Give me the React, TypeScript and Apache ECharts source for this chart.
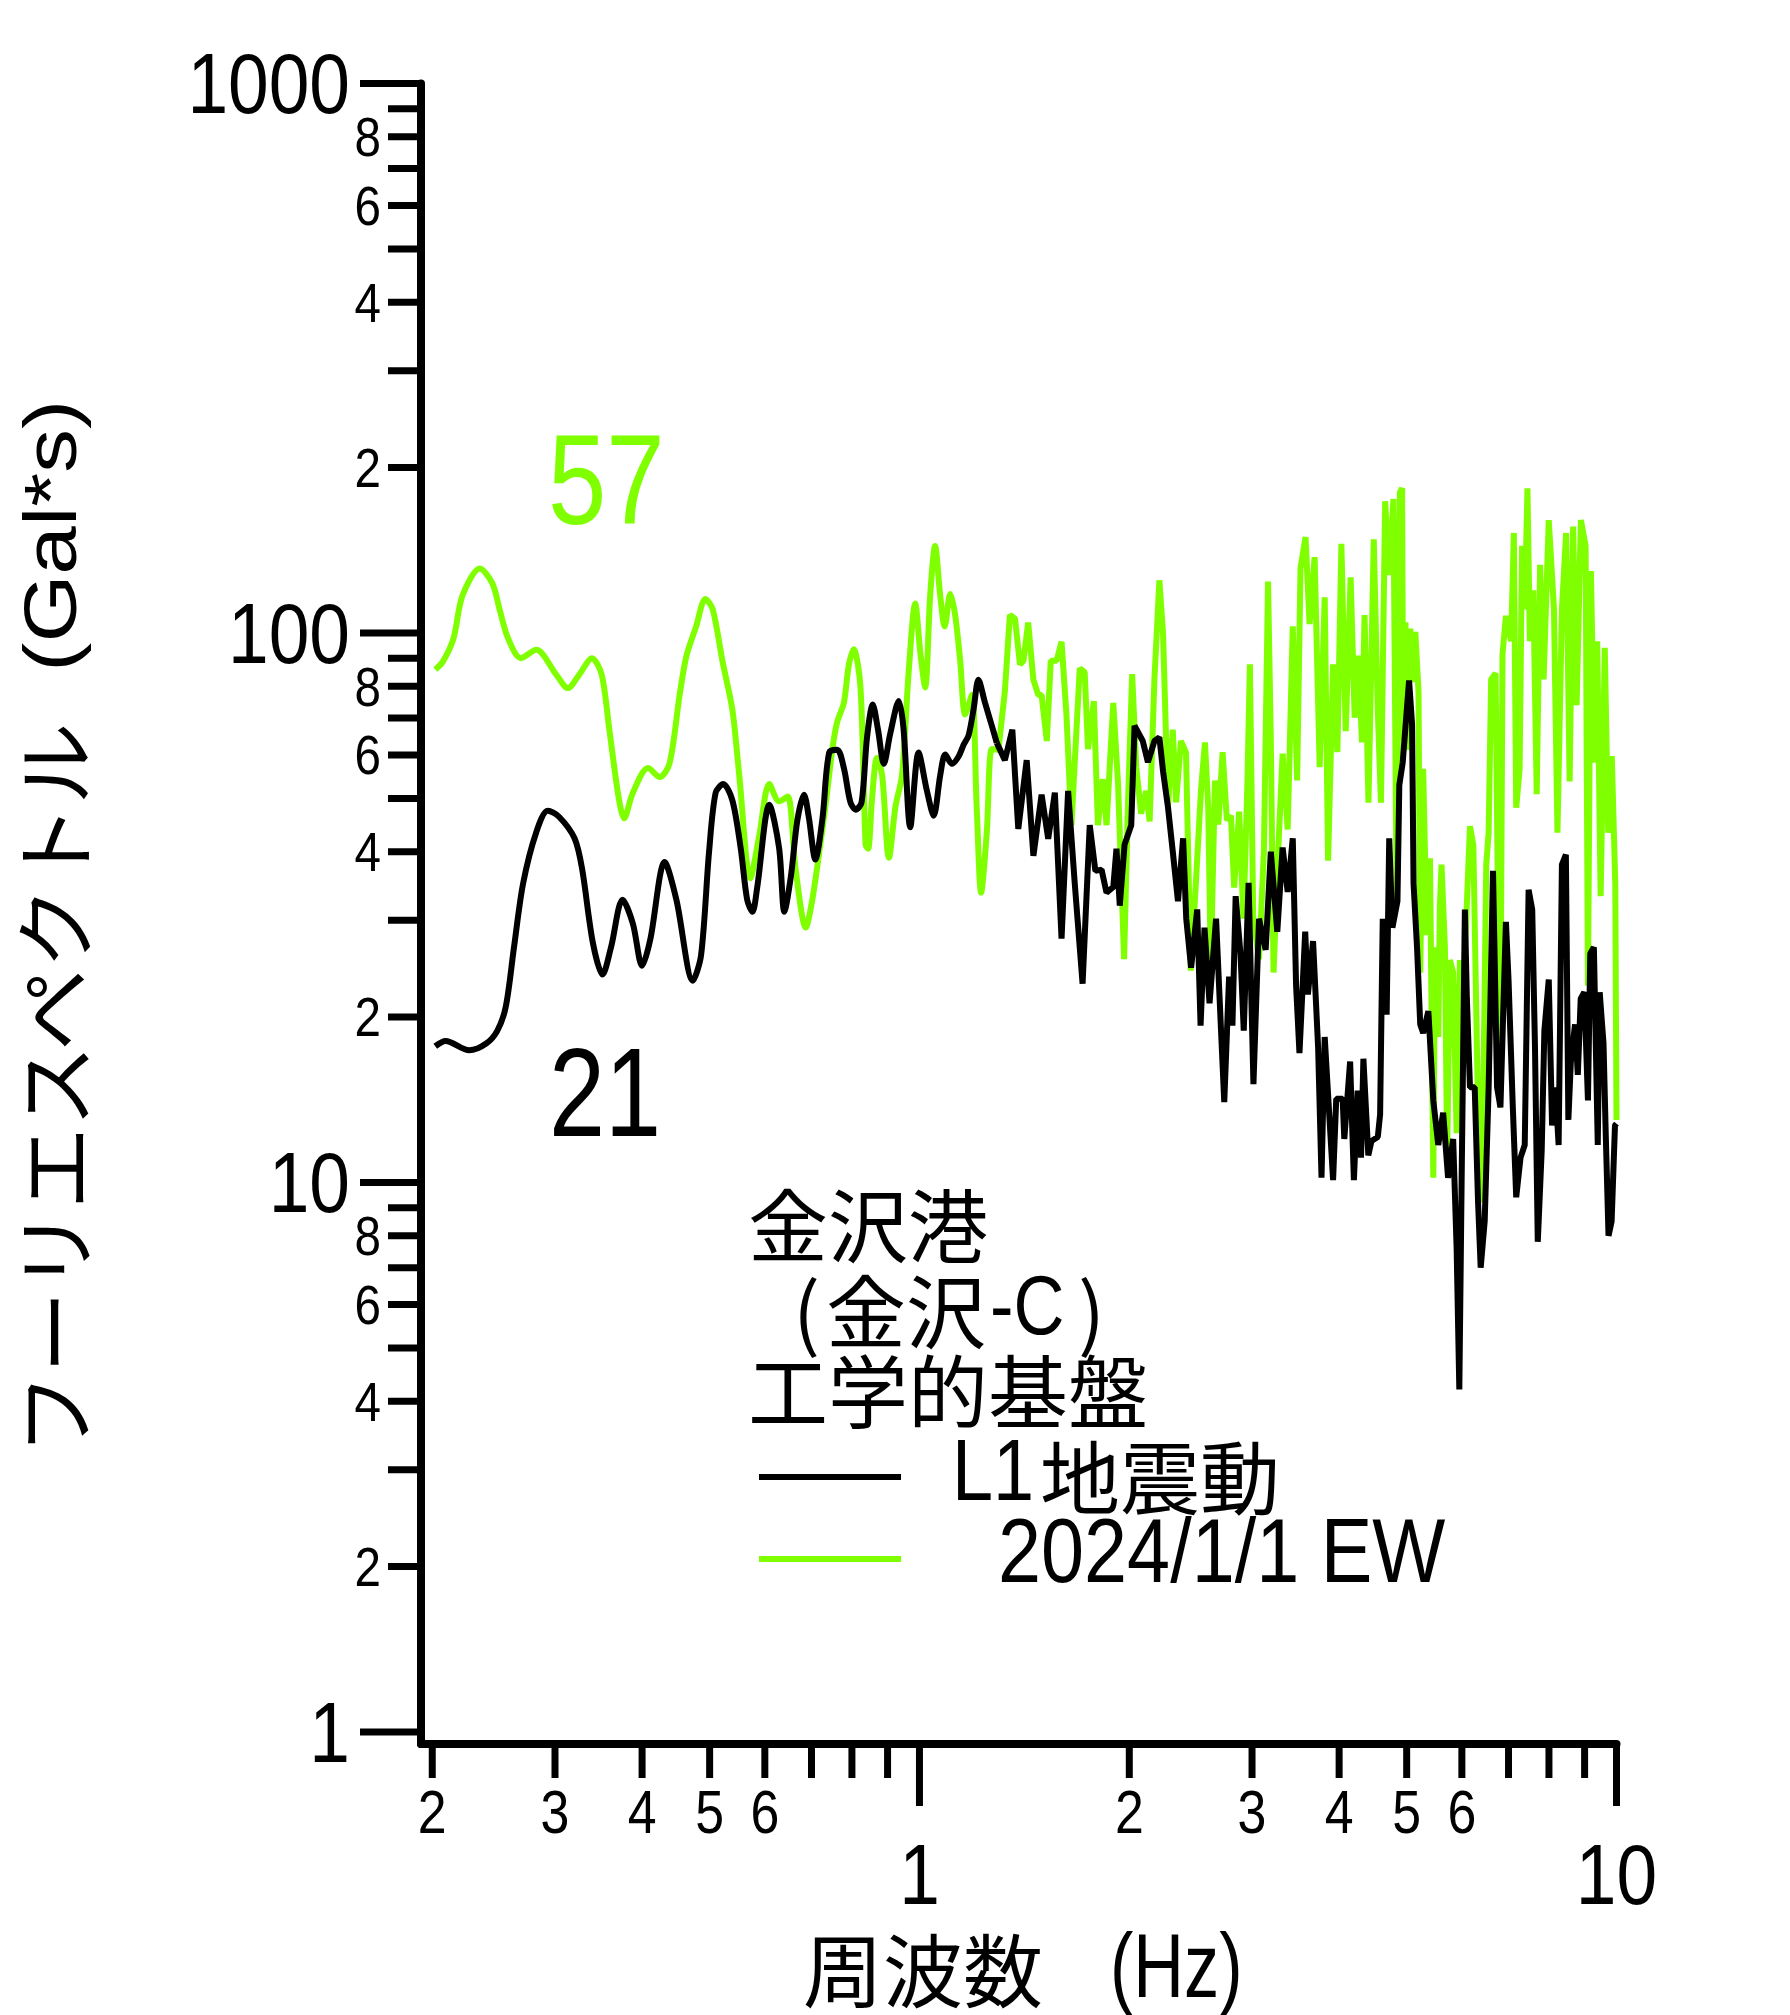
import React, { useEffect, useRef } from 'react';
import * as echarts from 'echarts';

// ---------- data ----------
const FREQ_EW = [
  0.202, 0.207, 0.2145, 0.221, 0.234, 0.244, 0.25, 0.257, 0.268, 0.282, 0.301, 0.313, 0.325, 0.339, 0.35,
  0.359, 0.37, 0.377, 0.388, 0.408, 0.424, 0.438, 0.453, 0.463, 0.478, 0.493, 0.505, 0.522, 0.539, 0.551,
  0.572, 0.589, 0.609, 0.629, 0.647, 0.664, 0.687, 0.701, 0.717, 0.733, 0.75, 0.762, 0.779, 0.792, 0.805,
  0.823, 0.837, 0.844, 0.855, 0.869, 0.884, 0.904, 0.924, 0.944, 0.965, 0.986, 1.003, 1.019, 1.036, 1.053,
  1.071, 1.087, 1.107, 1.125, 1.144, 1.163, 1.189, 1.208, 1.226, 1.249, 1.27, 1.298, 1.326, 1.348, 1.371,
  1.394, 1.41, 1.432, 1.457, 1.481, 1.497, 1.523, 1.543, 1.573, 1.599, 1.625, 1.652, 1.698, 1.726, 1.745,
  1.779, 1.803, 1.833, 1.855, 1.897, 1.927, 1.966, 1.991, 2.019, 2.047, 2.08, 2.115, 2.139, 2.173, 2.209,
  2.236, 2.273, 2.309, 2.334, 2.372, 2.412, 2.45, 2.494, 2.535, 2.568, 2.596, 2.618, 2.654, 2.684, 2.722,
  2.761, 2.798, 2.828, 2.875, 2.916, 2.954, 2.979, 3.012, 3.07, 3.12, 3.163, 3.192, 3.221, 3.271, 3.319,
  3.375, 3.432, 3.482, 3.521, 3.58, 3.628, 3.689, 3.751, 3.814, 3.857, 3.921, 3.977, 4.03, 4.088, 4.155,
  4.211, 4.266, 4.313, 4.351, 4.407, 4.485, 4.544, 4.593, 4.657, 4.718, 4.786, 4.837, 4.889, 4.925, 4.943,
  4.98, 5.0, 5.06, 5.09, 5.145, 5.2, 5.229, 5.28, 5.343, 5.4, 5.46, 5.49, 5.55, 5.58, 5.61,
  5.673, 5.716, 5.767, 5.83, 5.897, 5.962, 6.028, 6.163, 6.232, 6.316, 6.373, 6.445, 6.504, 6.555, 6.609,
  6.707, 6.807, 6.862, 6.94, 7.06, 7.124, 7.18, 7.261, 7.32, 7.385, 7.452, 7.511, 7.597, 7.683, 7.77,
  7.86, 7.995, 8.134, 8.228, 8.35, 8.467, 8.566, 8.665, 8.766, 8.89, 9.03, 9.1, 9.19, 9.297, 9.383,
  9.49, 9.62, 9.73, 9.845, 9.96, 10.0,
];
const AMP_EW = [
  85.8, 88.6, 97.7, 117, 131, 123, 110, 97.7, 90, 93.2, 84.1, 79.4, 84, 90, 84,
  66.7, 50.4, 46, 51.2, 56.8, 54.7, 57.9, 77.4, 90.7, 102.6, 115.3, 110.6, 88.5, 72.5, 55.6,
  35.8, 42.7, 53.1, 49.4, 50.4, 37.3, 29.1, 32.4, 39.3, 48.4, 61.5, 68.9, 74.6, 87.6, 93.4,
  79.6, 41.2, 40.5, 50, 59.2, 55.1, 39, 48.4, 55.1, 84.9, 113.2, 91.9, 79.6, 116.9, 144,
  116.9, 102.8, 117.8, 107.9, 89, 71.1, 77.1, 48.4, 33.7, 43.3, 61.5, 61.3, 78.4, 107.9, 106.2,
  87.6, 89, 104.5, 82.2, 77.1, 77.1, 63.6, 89, 89, 96.4, 71.1, 44.7, 86.2, 84.9, 61.5,
  75.2, 44.7, 54.2, 44.7, 74.6, 53.3, 25.5, 48.4, 84.2, 56.8, 46.9, 51.6, 45.4, 82.2, 124.7,
  99.6, 48.4, 66.7, 49.2, 63.6, 60.6, 24.3, 35.7, 51.9, 63.2, 48.1, 24.6, 53.9, 44.8, 60.7,
  45.6, 46.5, 34.4, 47.3, 30.2, 52.9, 87.7, 30.2, 25.5, 40, 124, 63.8, 24.1, 40, 60.3,
  43.9, 102.8, 53.9, 131.2, 149.5, 103.8, 137.4, 57, 116.1, 38.5, 87.7, 60.7, 145.3, 66.3, 126.3,
  70.1, 91, 63.2, 107.8, 49.1, 148.1, 72.8, 49.1, 173.7, 127.5, 175.3, 32.5, 180.3, 183.4, 63.8,
  104.6, 61.3, 101.9, 81.4, 100.5, 78, 24.1, 56.6, 28.2, 38.9, 10.2, 26.8, 18.4, 31.9, 37.9,
  26.8, 11.1, 25.4, 24.1, 12.3, 25.4, 22.2, 44.5, 41.1, 15.7, 9.2, 15.7, 37.9, 43.3, 82.3,
  84.5, 13.7, 91.5, 107.5, 96.6, 152.1, 48.1, 56.6, 144.1, 110.4, 183.4, 96.6, 119.6, 50.9, 133.1,
  82.3, 160.5, 110.4, 43.3, 110.4, 152.1, 53.7, 156.2, 73.9, 160.5, 144.1, 22.8, 129.6, 58.1, 96.6,
  33.2, 94, 43.3, 59.7, 35, 13,
];

const FREQ_L1 = [
  0.202, 0.209, 0.226, 0.239, 0.248, 0.255, 0.262, 0.27, 0.282, 0.293, 0.304, 0.32, 0.328, 0.34, 0.351,
  0.361, 0.375, 0.388, 0.4, 0.411, 0.431, 0.448, 0.473, 0.486, 0.499, 0.51, 0.523, 0.539, 0.554, 0.566,
  0.576, 0.585, 0.609, 0.629, 0.64, 0.654, 0.668, 0.683, 0.694, 0.709, 0.726, 0.742, 0.762, 0.779, 0.796,
  0.81, 0.826, 0.841, 0.857, 0.872, 0.889, 0.908, 0.934, 0.949, 0.97, 0.997, 1.025, 1.048, 1.071, 1.089,
  1.113, 1.138, 1.157, 1.176, 1.196, 1.215, 1.242, 1.27, 1.291, 1.326, 1.359, 1.386, 1.425, 1.457, 1.497,
  1.53, 1.564, 1.599, 1.634, 1.67, 1.714, 1.755, 1.788, 1.825, 1.855, 1.897, 1.917, 1.938, 1.969, 2.013,
  2.035, 2.091, 2.127, 2.173, 2.209, 2.236, 2.273, 2.309, 2.349, 2.389, 2.414, 2.453, 2.503, 2.531, 2.564,
  2.607, 2.664, 2.708, 2.737, 2.781, 2.812, 2.842, 2.888, 2.919, 2.966, 3.014, 3.07, 3.138, 3.192, 3.261,
  3.319, 3.375, 3.432, 3.47, 3.509, 3.576, 3.608, 3.67, 3.732, 3.774, 3.814, 3.921, 3.962, 4.047, 4.069,
  4.148, 4.2, 4.253, 4.3, 4.334, 4.405, 4.451, 4.545, 4.58, 4.62, 4.68, 4.72, 4.77, 4.85, 4.88,
  4.935, 5.04, 5.09, 5.115, 5.174, 5.229, 5.28, 5.371, 5.46, 5.55, 5.64, 5.733, 5.83, 5.897, 5.95,
  5.995, 6.06, 6.1, 6.163, 6.26, 6.33, 6.385, 6.47, 6.555, 6.65, 6.74, 6.815, 6.94, 7.0, 7.1,
  7.18, 7.283, 7.385, 7.48, 7.57, 7.64, 7.71, 7.81, 7.88, 7.995, 8.083, 8.17, 8.26, 8.35, 8.46,
  8.53, 8.6, 8.72, 8.8, 8.885, 8.99, 9.1, 9.17, 9.28, 9.4, 9.46, 9.58, 9.65, 9.74, 9.84,
  9.95, 10.0,
];
const AMP_L1 = [
  17.7, 18.1, 17.4, 17.9, 18.9, 20.9, 26.8, 35, 43.4, 47.5, 46.3, 42.3, 37.3, 27.3, 23.9,
  26.8, 32.7, 29.6, 24.8, 27.7, 38.3, 32.7, 23.3, 25.9, 39.9, 51.2, 53.1, 49.6, 40.6, 32.7,
  31.1, 34.4, 48.7, 40.6, 31.1, 36.1, 45.6, 50.8, 46.1, 38.7, 46.1, 60.6, 61.3, 56.8, 49.2,
  47.7, 49.2, 64.6, 74.1, 66.7, 57.8, 65.6, 75.2, 66.7, 44.3, 60.6, 51.6, 46.5, 55.1, 60.1,
  57.8, 59.6, 62.6, 65.1, 72.8, 82.2, 74.6, 67.8, 63.1, 58.7, 66.7, 44, 58.7, 39.3, 50.8,
  42.2, 51.2, 27.8, 51.6, 35.1, 23, 44.7, 36.9, 37.1, 33.7, 34.5, 40.5, 31.9, 41.2, 44.7,
  67.8, 63.6, 58.2, 63.6, 64.6, 56, 48.1, 40, 32.5, 42.3, 30.2, 24.6, 31.4, 19.3, 29.1,
  21.2, 30.2, 18.9, 14, 23.7, 19.3, 33.2, 26, 18.9, 35.1, 15.1, 30.2, 26.5, 40, 28.6,
  40.7, 33.8, 42.3, 22.8, 17.2, 28.6, 22, 27.5, 17.6, 10.2, 18.4, 10.1, 14.2, 14.2, 12,
  16.6, 10.1, 14.7, 11.1, 16.8, 11.2, 11.9, 12.1, 13.3, 30.2, 20.2, 42.3, 29.1, 32.5, 52.9,
  58.1, 82, 68.2, 35, 26.8, 19.4, 18.7, 20.5, 14.1, 11.7, 13.4, 10.2, 12, 7.6, 4.2,
  10, 31.4, 21.6, 14.9, 14.9, 9.2, 7.0, 8.5, 14.9, 36.9, 14.9, 13.7, 29.8, 23.4, 13.7,
  9.4, 11.1, 11.7, 34.1, 31.4, 17.5, 7.8, 11.4, 18.9, 23.4, 12.7, 14.9, 11.7, 37.9, 39.5,
  13, 16.6, 19.4, 15.7, 21.6, 22.2, 14.1, 26.1, 26.8, 11.7, 22.2, 17.9, 12.3, 8.0, 8.5,
  12.7, 12.8,
];

const Y_TICKS = [1, 2, 3, 4, 5, 6, 7, 8, 9, 10, 20, 30, 40, 50, 60, 70, 80, 90, 100, 200, 300, 400, 500, 600, 700, 800, 900, 1000];
const Y_TICK_LABELS = ['1', '2', '', '4', '', '6', '', '8', '', '10', '2', '', '4', '', '6', '', '8', '', '100', '2', '', '4', '', '6', '', '8', '', '1000'];
const X_TICKS = [0.2, 0.3, 0.4, 0.5, 0.6, 0.7, 0.8, 0.9, 1, 2, 3, 4, 5, 6, 7, 8, 9, 10];
const X_TICK_LABELS = ['2', '3', '4', '5', '6', '', '', '', '1', '2', '3', '4', '5', '6', '', '', '', '10'];

const X_MIN = 0.1927;
const X_MAX = 10;
const Y_MIN = 0.951;
const Y_MAX = 1000;
// below this frequency the spectra are drawn as smooth curves, above as raw polylines
const SMOOTH_UNTIL = 1.3;

const LEGEND_L1 = 'L1地震動';
const LEGEND_EW = '2024/1/1 EW';

// ---------- styles ----------
const GREEN = '#80ff00';
const LATIN = "'Liberation Sans', Arial, sans-serif";
const CJK = "'Noto Sans CJK JP', 'Noto Sans CJK SC', sans-serif";

const isMajor = (v: number) => Math.abs(Math.log10(v) - Math.round(Math.log10(v))) < 1e-9;

function splitSeries(freq: number[], amp: number[]) {
  const pts = freq.map((f, i) => [f, amp[i]]);
  let k = freq.findIndex((f) => f > SMOOTH_UNTIL);
  if (k < 0) k = freq.length;
  return { low: pts.slice(0, k), high: pts.slice(Math.max(0, k - 1)) };
}

export default function App() {
  const ref = useRef<HTMLDivElement>(null);

  useEffect(() => {
    if (!ref.current) return;
    const chart = echarts.init(ref.current, null, { renderer: 'svg' });

    const ew = splitSeries(FREQ_EW, AMP_EW);
    const l1 = splitSeries(FREQ_L1, AMP_L1);

    const lineSeries = (name: string, data: any[], color: string, smooth: boolean, z: number) => ({
      name,
      type: 'line',
      data,
      showSymbol: false,
      symbol: 'none',
      smooth: smooth ? 0.3 : false,
      lineStyle: { color, width: 6, join: 'bevel', cap: 'butt' },
      z,
    });

    const cjkText = (text: string, x: number, y: number, size = 80) => ({
      type: 'text',
      x,
      y,
      style: { text, fill: '#000', fontSize: size, lineHeight: size, fontFamily: CJK, align: 'left', verticalAlign: 'middle' },
    });

    const option: any = {
      animation: false,
      backgroundColor: '#ffffff',
      grid: { left: 421, right: 173.5, top: 83.5, bottom: 271, containLabel: false, outerBoundsMode: 'none' },
      xAxis: {
        type: 'log',
        logBase: 10,
        min: X_MIN,
        max: X_MAX,
        axisLine: { show: true, lineStyle: { color: '#000', width: 8 } },
        axisTick: { show: false },
        axisLabel: { show: false },
        splitLine: { show: false },
        minorTick: { show: false },
      },
      yAxis: {
        type: 'log',
        logBase: 10,
        min: Y_MIN,
        max: Y_MAX,
        axisLine: { show: true, lineStyle: { color: '#000', width: 8 } },
        axisTick: { show: false },
        axisLabel: { show: false },
        splitLine: { show: false },
        minorTick: { show: false },
      },
      series: [
        lineSeries(LEGEND_EW, ew.low, GREEN, true, 3),
        lineSeries(LEGEND_EW, ew.high, GREEN, false, 3),
        lineSeries(LEGEND_L1, l1.low, '#000', true, 4),
        lineSeries(LEGEND_L1, l1.high, '#000', false, 4),
        {
          type: 'custom',
          coordinateSystem: 'cartesian2d',
          clip: false,
          silent: true,
          z: 6,
          data: Y_TICKS.map((v) => [X_MIN, v]),
          renderItem: (params: any, api: any) => {
            const v = api.value(1);
            const p = api.coord([X_MIN, v]);
            const major = isMajor(v);
            const len = major ? 61 : 33;
            const label = Y_TICK_LABELS[params.dataIndex];
            const children: any[] = [
              { type: 'line', shape: { x1: p[0] - len, y1: p[1], x2: p[0], y2: p[1] }, style: { stroke: '#000', lineWidth: 7 } },
            ];
            if (label) {
              children.push({
                type: 'text',
                x: p[0] - len - (major ? 10 : 7),
                y: p[1],
                scaleX: 0.85,
                style: { text: label, fill: '#000', fontSize: major ? 86 : 56, lineHeight: major ? 86 : 56, fontFamily: LATIN, align: 'right', verticalAlign: 'middle' },
              });
            }
            return { type: 'group', children };
          },
        },
        {
          type: 'custom',
          coordinateSystem: 'cartesian2d',
          clip: false,
          silent: true,
          z: 6,
          data: X_TICKS.map((f) => [f, Y_MIN]),
          renderItem: (params: any, api: any) => {
            const f = api.value(0);
            const p = api.coord([f, Y_MIN]);
            const major = isMajor(f);
            const len = major ? 62 : 34;
            const label = X_TICK_LABELS[params.dataIndex];
            const children: any[] = [
              { type: 'line', shape: { x1: p[0], y1: p[1], x2: p[0], y2: p[1] + len }, style: { stroke: '#000', lineWidth: 7 } },
            ];
            if (label) {
              children.push({
                type: 'text',
                x: p[0],
                y: major ? p[1] + 130 : p[1] + 68,
                scaleX: 0.85,
                style: { text: label, fill: '#000', fontSize: major ? 86 : 61, lineHeight: major ? 86 : 61, fontFamily: LATIN, align: 'center', verticalAlign: 'middle' },
              });
            }
            return { type: 'group', children };
          },
        },
      ],
      graphic: [
        // y axis title (reads bottom to top)
        { type: 'text', x: 50, y: 1455, rotation: Math.PI / 2, style: { text: 'フーリエスペクトル', fill: '#000', fontSize: 82, lineHeight: 82, fontFamily: CJK, align: 'left', verticalAlign: 'middle' } },
        { type: 'text', x: 50, y: 400, rotation: Math.PI / 2, scaleX: 1.18, style: { text: '(Gal*s)', fill: '#000', fontSize: 74, lineHeight: 74, fontFamily: LATIN, align: 'right', verticalAlign: 'middle' } },
        // x axis title
        cjkText('周波数', 803, 1966),
        { type: 'text', x: 1110, y: 1966, scaleX: 0.78, style: { text: '(Hz)', fill: '#000', fontSize: 90, lineHeight: 80, fontFamily: LATIN, align: 'left', verticalAlign: 'middle' } },
        // peak value annotations
        { type: 'text', x: 548, y: 480, scaleX: 0.82, style: { text: '57', fill: GREEN, fontSize: 128, lineHeight: 128, fontFamily: LATIN, align: 'left', verticalAlign: 'middle' } },
        { type: 'text', x: 549, y: 1092, scaleX: 0.8, style: { text: '21', fill: '#000', fontSize: 126, lineHeight: 126, fontFamily: LATIN, align: 'left', verticalAlign: 'middle' } },
        // legend block
        cjkText('金沢港', 748, 1221),
        cjkText('(', 793, 1307),
        cjkText('金沢', 826, 1307),
        { type: 'text', x: 990, y: 1305, scaleX: 0.84, style: { text: '-C', fill: '#000', fontSize: 84, lineHeight: 80, fontFamily: LATIN, align: 'left', verticalAlign: 'middle' } },
        cjkText(')', 1078, 1307),
        cjkText('工学的基盤', 748, 1387),
        { type: 'line', shape: { x1: 759, y1: 1477, x2: 901, y2: 1477 }, style: { stroke: '#000', lineWidth: 6 } },
        { type: 'text', x: 952, y: 1469, scaleX: 0.84, style: { text: 'L1', fill: '#000', fontSize: 88, lineHeight: 80, fontFamily: LATIN, align: 'left', verticalAlign: 'middle' } },
        cjkText('地震動', 1040, 1473),
        { type: 'line', shape: { x1: 759, y1: 1559, x2: 901, y2: 1559 }, style: { stroke: GREEN, lineWidth: 6 } },
        { type: 'text', x: 998, y: 1551, scaleX: 0.86, style: { text: LEGEND_EW, fill: '#000', fontSize: 90, lineHeight: 80, fontFamily: LATIN, align: 'left', verticalAlign: 'middle' } },
      ],
    };

    chart.setOption(option);
    return () => chart.dispose();
  }, []);

  return <div ref={ref} style={{ position: 'absolute', left: 0, top: 0, width: 1790, height: 2015 }} />;
}
